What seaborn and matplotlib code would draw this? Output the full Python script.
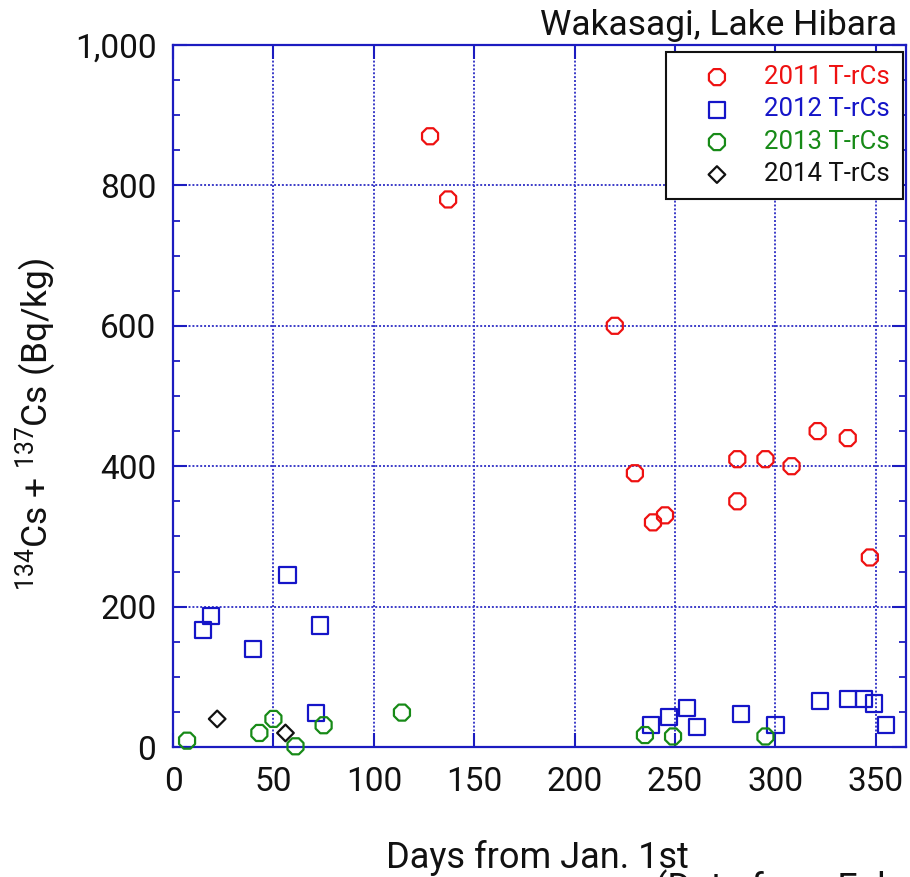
import matplotlib
matplotlib.use("Agg")
import matplotlib.pyplot as plt
import seaborn as sns
import pandas as pd
from matplotlib.ticker import MultipleLocator

# Radiocaesium in wakasagi (pond smelt), Lake Hibara, by day of year
days_2011 = [128, 137, 220, 230, 239, 245, 281, 281, 295, 308, 321, 336, 347]
cs_2011 = [870, 780, 600, 390, 320, 330, 350, 410, 410, 400, 450, 440, 270]

days_2012 = [15, 19, 40, 57, 71, 73, 238, 247, 256, 261, 283, 300, 322, 336, 344, 349, 355]
cs_2012 = [167, 186, 139, 245, 49, 173, 31, 43, 56, 28, 47, 31, 66, 68, 68, 62, 31]

days_2013 = [7, 43, 50, 61, 75, 114, 235, 249, 295]
cs_2013 = [9, 20, 40, 1, 31, 49, 17, 15, 15]

days_2014 = [22, 56]
cs_2014 = [40, 20]

series_labels = ["2011 T-rCs", "2012 T-rCs", "2013 T-rCs", "2014 T-rCs"]
x_ticks = [0, 50, 100, 150, 200, 250, 300, 350]
y_ticks = [0, 200, 400, 600, 800, 1000]
y_tick_labels = ["0", "200", "400", "600", "800", "1,000"]

sns.set_style("white")
plt.rcParams["font.family"] = ["Roboto", "DejaVu Sans"]
plt.rcParams["mathtext.default"] = "regular"

AX_BLUE = "#1c1cc0"
GRID_BLUE = "#3c3cc8"

fig = plt.figure(figsize=(9.10, 8.77), dpi=100)
ax = fig.add_axes([173 / 910, 1 - 747 / 877, (906 - 173) / 910, (747 - 45) / 877])

styles = [
    (days_2011, cs_2011, "8", "#ee1111", 156),
    (days_2012, cs_2012, "s", "#1515c8", 135),
    (days_2013, cs_2013, "8", "#178a17", 156),
    (days_2014, cs_2014, "D", "#111111", 72),
]
for (xs, ys, mk, col, size), lab in zip(styles, series_labels):
    df = pd.DataFrame({"day": xs, "cs": ys})
    sns.scatterplot(data=df, x="day", y="cs", ax=ax, marker=mk, s=size,
                    facecolors="none", edgecolor=col, linewidth=1.6,
                    label=lab, clip_on=False, zorder=3)

ax.set_xlim(0, 365)
ax.set_ylim(0, 1000)
ax.set_xticks(x_ticks)
ax.set_yticks(y_ticks)
ax.set_yticklabels(y_tick_labels)
ax.yaxis.set_minor_locator(MultipleLocator(50))
ax.set_xlabel("")
ax.set_ylabel("")

ax.grid(True, which="major", color=GRID_BLUE, linestyle=(0, (1, 1)), linewidth=1.4)
ax.set_axisbelow(True)
for sp in ax.spines.values():
    sp.set_visible(True)
    sp.set_color(AX_BLUE)
    sp.set_linewidth(1.6)

ax.tick_params(axis="both", which="both", direction="in", colors=AX_BLUE,
               top=True, right=True, bottom=True, left=True)
ax.tick_params(axis="both", which="major", length=10, width=1.5,
               labelsize=24, labelcolor="#111111")
ax.tick_params(axis="both", which="minor", length=5, width=1.3)
ax.tick_params(axis="x", pad=14)
ax.tick_params(axis="y", pad=12)

leg = ax.legend(loc="upper right", bbox_to_anchor=(0.996, 0.990), borderaxespad=0,
                frameon=True, fancybox=False, framealpha=1, edgecolor="#111111",
                fontsize=18.5, handlelength=3.0, handletextpad=0.35, borderpad=0.5,
                labelspacing=0.33, labelcolor="markeredgecolor", scatterpoints=1)
leg.get_frame().set_linewidth(1.5)

fig.text(897 / 910, 1 - 35 / 877, "Wakasagi, Lake Hibara", ha="right", va="baseline",
         fontsize=25.5, color="#111111")
fig.text(537 / 910, 1 - 868 / 877, "Days from Jan. 1st", ha="center", va="baseline",
         fontsize=26, color="#111111")
fig.text(36 / 910, 1 - 424 / 877, "$^{134}$Cs + $^{137}$Cs (Bq/kg)", rotation=90,
         ha="center", va="center", fontsize=25.5, color="#111111")
fig.text(655 / 910, 1 - 870 / 877, "(Data from Fukushima Pref.)", ha="left", va="top",
         fontsize=26, color="#111111")

fig.savefig("out.png", dpi=100)
